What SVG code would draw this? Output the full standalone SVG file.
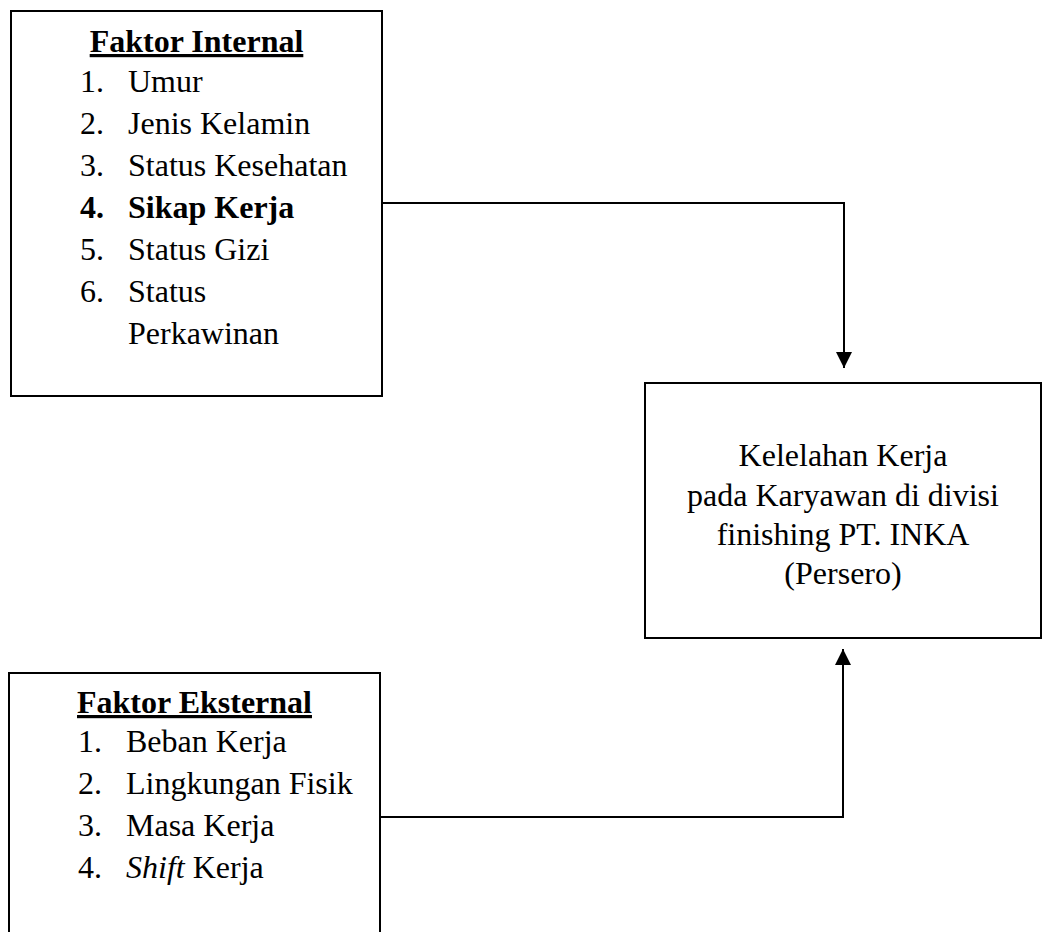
<svg xmlns="http://www.w3.org/2000/svg" width="1043" height="932" viewBox="0 0 1043 932">
  <style>
    .box { fill: #ffffff; stroke: #000000; stroke-width: 2; }
    .t { font-family: "Liberation Serif", "Times New Roman", serif; font-size: 32px; fill: #000000; }
    .b { font-weight: bold; }
    .title { font-weight: bold; text-decoration: underline; text-anchor: middle; }
    .c { text-anchor: middle; }
    .conn { fill: none; stroke: #000000; stroke-width: 2; }
  </style>
  <defs>
    <marker id="arrow" markerUnits="userSpaceOnUse" markerWidth="16" markerHeight="16" viewBox="0 0 16 16" refX="16" refY="8" orient="auto">
      <path d="M0,0 L16,8 L0,16 Z" fill="#000000"/>
    </marker>
  </defs>
  <rect width="1043" height="932" fill="#ffffff"/>

  <g id="faktor-internal">
    <rect class="box" x="11" y="11" width="371" height="385"/>
    <text class="t title" x="196.5" y="52">Faktor Internal</text>
    <text class="t" x="80" y="92">1.</text><text class="t" x="128" y="92">Umur</text>
    <text class="t" x="80" y="134">2.</text><text class="t" x="128" y="134">Jenis Kelamin</text>
    <text class="t" x="80" y="176">3.</text><text class="t" x="128" y="176">Status Kesehatan</text>
    <text class="t b" x="80" y="218">4.</text><text class="t b" x="128" y="218">Sikap Kerja</text>
    <text class="t" x="80" y="260">5.</text><text class="t" x="128" y="260">Status Gizi</text>
    <text class="t" x="80" y="302">6.</text><text class="t" x="128" y="302">Status</text>
    <text class="t" x="128" y="344">Perkawinan</text>
  </g>

  <g id="kelelahan-kerja">
    <rect class="box" x="645" y="383" width="396" height="255"/>
    <text class="t c" x="843" y="466">Kelelahan Kerja</text>
    <text class="t c" x="843" y="506">pada Karyawan di divisi</text>
    <text class="t c" x="843" y="545">finishing PT. INKA</text>
    <text class="t c" x="843" y="584">(Persero)</text>
  </g>

  <g id="faktor-eksternal">
    <rect class="box" x="9" y="673" width="371" height="280"/>
    <text class="t title" x="194.5" y="713">Faktor Eksternal</text>
    <text class="t" x="78" y="752">1.</text><text class="t" x="126" y="752">Beban Kerja</text>
    <text class="t" x="78" y="794">2.</text><text class="t" x="126" y="794">Lingkungan Fisik</text>
    <text class="t" x="78" y="836">3.</text><text class="t" x="126" y="836">Masa Kerja</text>
    <text class="t" x="78" y="878">4.</text><text class="t" x="126" y="878"><tspan font-style="italic">Shift</tspan> Kerja</text>
  </g>

  <g id="connectors">
    <path class="conn" d="M382,203 H844 V368" marker-end="url(#arrow)"/>
    <path class="conn" d="M381,817 H843 V649" marker-end="url(#arrow)"/>
  </g>
</svg>
